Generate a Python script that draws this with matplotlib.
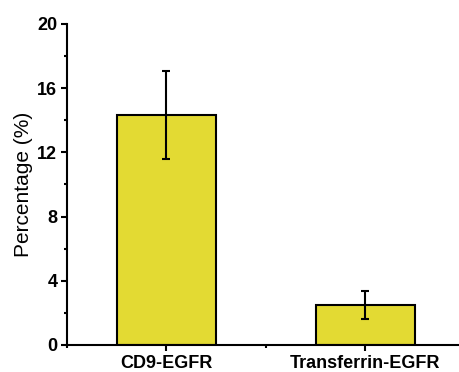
import matplotlib.pyplot as plt
from matplotlib.ticker import MultipleLocator

# --------------------------
# Data
# --------------------------
categories = ["CD9-EGFR", "Transferrin-EGFR"]
values = [14.33, 2.49]
errors = [2.75, 0.87]

plt.rcParams["font.family"] = ["Liberation Sans", "DejaVu Sans"]

fig = plt.figure(figsize=(4.6, 3.72), dpi=100)
ax = fig.add_axes([0.1457, 0.0726, 0.865, 0.8629])

pos = [1, 2]
ax.bar(pos, values, width=0.5, color="#e3da33", edgecolor="black", linewidth=1.5, zorder=2)
ax.errorbar(pos, values, yerr=errors, fmt="none", ecolor="black",
            elinewidth=1.5, capsize=3, capthick=1.5, zorder=3)

ax.set_xlim(0.5, 2.5)
ax.set_ylim(0, 20)
ax.set_xticks(pos)
ax.set_xticklabels(categories, fontsize=13, fontweight="bold")
ax.xaxis.set_minor_locator(MultipleLocator(0.5))
ax.yaxis.set_major_locator(MultipleLocator(4))
ax.yaxis.set_minor_locator(MultipleLocator(2))
for lab in ax.get_yticklabels():
    lab.set_fontweight("bold")
    lab.set_fontsize(13)
ax.set_ylabel("Percentage (%)", fontsize=15, labelpad=3)

ax.spines["top"].set_visible(False)
ax.spines["right"].set_visible(False)
ax.spines["left"].set_linewidth(1.5)
ax.spines["bottom"].set_linewidth(1.5)
ax.tick_params(axis="both", which="major", direction="out", length=4, width=1.5, pad=3)
ax.tick_params(axis="both", which="minor", direction="out", length=2.5, width=1.5)

fig.savefig("out.png", dpi=100)
